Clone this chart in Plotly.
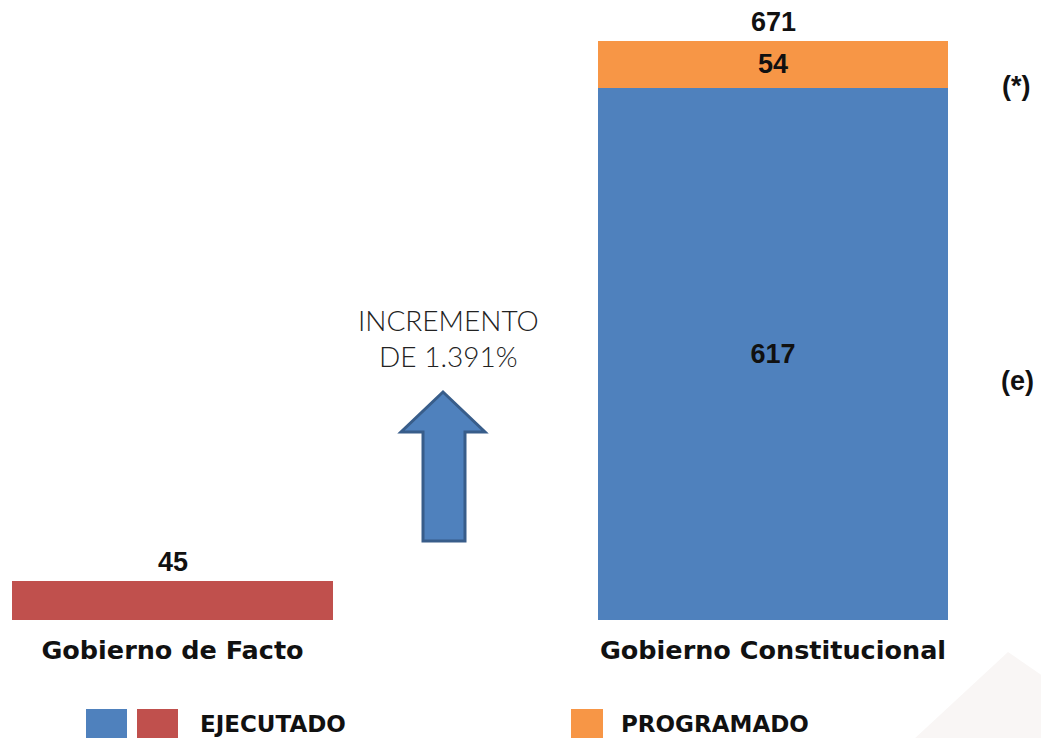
import plotly.graph_objects as go

# ---- data ----
categories = ["Gobierno de Facto", "Gobierno Constitucional"]
ejecutado = [45, 617]
programado = [0, 54]
totals = [45, 671]
legend_labels = ["EJECUTADO", "PROGRAMADO"]
increment_text = "INCREMENTO<br>DE 1.391%"
footnotes = ["(*)", "(e)"]

# ---- style ----
BLUE = "#4f81bd"
RED = "#c0504d"
ORANGE = "#f79646"
W, H = 1041, 738
TOP, BOTTOM = 41, 118
widths = [0.5346, 0.5828]
NUMF = dict(family="Liberation Sans", size=27, color="#111111", weight="bold")
LABF = dict(family="DejaVu Sans", size=25.5, color="#111111", weight="bold")

plot_h = H - TOP - BOTTOM


def px(x):
    return x / W


def py(y):
    return (H - BOTTOM - y) / plot_h


fig = go.Figure()
fig.add_trace(go.Bar(
    x=categories, y=ejecutado, width=widths, name=legend_labels[0],
    marker=dict(color=[RED, BLUE], line=dict(width=0)),
    text=["", str(ejecutado[1])], textposition="inside",
    insidetextanchor="middle", textangle=0, textfont=NUMF,
    showlegend=False, hoverinfo="skip",
))
fig.add_trace(go.Bar(
    x=categories[1:], y=programado[1:], width=widths[1:], name=legend_labels[1],
    marker=dict(color=ORANGE, line=dict(width=0)),
    text=[str(programado[1])], textposition="inside",
    insidetextanchor="middle", textangle=0, textfont=NUMF,
    showlegend=False, hoverinfo="skip",
))

annotations = []
for c, t in zip(categories, totals):
    annotations.append(dict(x=c, y=t, xref="x", yref="y", text=str(t),
                            showarrow=False, yanchor="bottom", yshift=2, font=NUMF))
annotations.append(dict(x=px(448), y=py(338), xref="paper", yref="paper", text=increment_text,
                        showarrow=False, xanchor="center", yanchor="middle",
                        font=dict(family="Lato", size=28, color="#222222", weight=300),
                        align="center"))
annotations.append(dict(x=px(1016), y=py(86), xref="paper", yref="paper", text=footnotes[0],
                        showarrow=False, xanchor="center", yanchor="middle", font=NUMF))
annotations.append(dict(x=px(1017), y=py(381), xref="paper", yref="paper", text=footnotes[1],
                        showarrow=False, xanchor="center", yanchor="middle", font=NUMF))
annotations.append(dict(x=px(198), y=py(724), xref="paper", yref="paper", text=legend_labels[0],
                        showarrow=False, xanchor="left", yanchor="middle", font=dict(LABF, size=23)))
annotations.append(dict(x=px(619), y=py(724), xref="paper", yref="paper", text=legend_labels[1],
                        showarrow=False, xanchor="left", yanchor="middle", font=dict(LABF, size=23)))

shapes = []
shapes.append(dict(type="path", xref="paper", yref="paper", layer="below",
                   path=f"M {px(913)} {py(740)} L {px(1008)} {py(652)} L {px(1043)} {py(676)} L {px(1043)} {py(740)} Z",
                   fillcolor="#f9f6f5", line=dict(width=0)))
ax = [443, 485, 465, 465, 423, 423, 401]
ay = [392, 432, 432, 541, 541, 432, 432]
path = "M " + " L ".join(f"{px(a)} {py(b)}" for a, b in zip(ax, ay)) + " Z"
shapes.append(dict(type="path", xref="paper", yref="paper", path=path,
                   fillcolor=BLUE, line=dict(color="#385d8a", width=3)))
for x0, x1, col in [(86, 127, BLUE), (137, 178, RED), (571, 603, ORANGE)]:
    shapes.append(dict(type="rect", xref="paper", yref="paper",
                       x0=px(x0), x1=px(x1), y0=py(709), y1=py(740),
                       fillcolor=col, line=dict(width=0)))

fig.update_layout(
    width=W, height=H, barmode="stack",
    margin=dict(l=0, r=0, t=TOP, b=BOTTOM),
    paper_bgcolor="white", plot_bgcolor="white",
    xaxis=dict(type="category", range=[-0.2873, 1.4463], showgrid=False, zeroline=False,
               showline=False, ticks="", tickfont=LABF, ticklabelstandoff=12),
    yaxis=dict(range=[0, totals[1]], visible=False, fixedrange=True),
    annotations=annotations, shapes=shapes,
    uniformtext=dict(mode="show", minsize=10),
)
fig.update_traces(cliponaxis=False)
fig.write_html("out.html", config={"displayModeBar": False},
               post_script="document.body.style.margin='0';document.body.style.overflow='hidden';")
